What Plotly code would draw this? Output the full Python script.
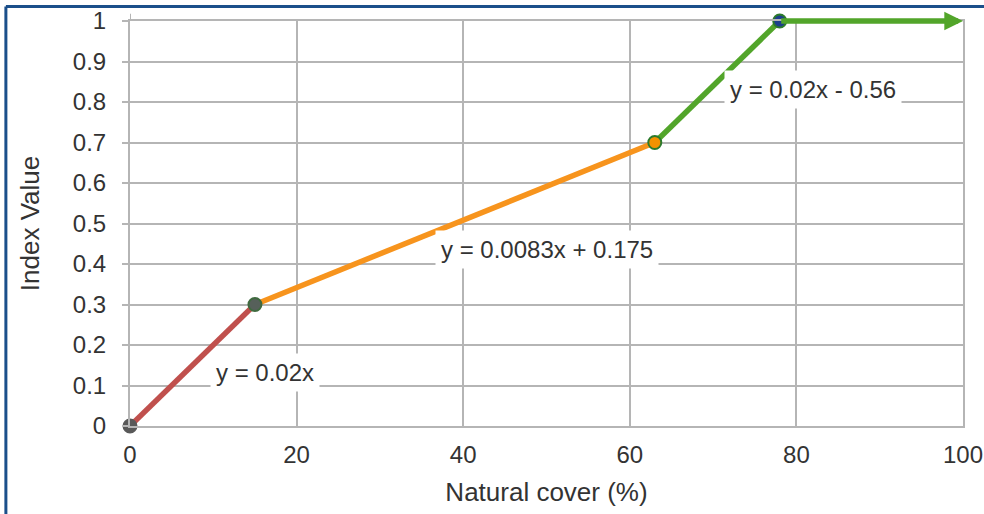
import plotly.graph_objects as go

# Data
break_x = [0, 15, 63, 78]
break_y = [0.0, 0.3, 0.7, 1.0]
end_x = 100
equations = ["y = 0.02x", "y = 0.0083x + 0.175", "y = 0.02x - 0.56"]
x_ticks = [0, 20, 40, 60, 80, 100]
y_ticks = [0, 0.1, 0.2, 0.3, 0.4, 0.5, 0.6, 0.7, 0.8, 0.9, 1]

seg_colors = ["#c0504d", "#f7941d", "#52a52a"]
marker_fill = ["#595959", "#56605a", "#f39200", "#1d3f8c"]
marker_line = ["#595959", "#3f6a3f", "#2c7a2c", "#2c7a2c"]
label_pos = [(16.2, 0.133), (50.0, 0.435), (82.05, 0.832)]

FONT = "Liberation Sans, Arial, sans-serif"
TXT = "#333333"

fig = go.Figure()
for i in range(3):
    fig.add_trace(go.Scatter(
        x=[break_x[i], break_x[i + 1]], y=[break_y[i], break_y[i + 1]],
        mode="lines", line=dict(color=seg_colors[i], width=5.5),
        cliponaxis=False, showlegend=False, hoverinfo="skip"))

fig.add_trace(go.Scatter(
    x=break_x, y=break_y, mode="markers",
    marker=dict(size=13, color=marker_fill, line=dict(color=marker_line, width=2)),
    cliponaxis=False, showlegend=False))

# arrow from last break point to end of range
fig.add_annotation(x=end_x, y=break_y[-1], ax=break_x[-1], ay=break_y[-1],
                   xref="x", yref="y", axref="x", ayref="y", text="",
                   showarrow=True, arrowhead=2, arrowsize=0.68, arrowwidth=5.5,
                   arrowcolor=seg_colors[2], standoff=0)

for (lx, ly), txt in zip(label_pos, equations):
    fig.add_annotation(x=lx, y=ly, xref="x", yref="y", text=txt, showarrow=False,
                       bgcolor="white", borderpad=5,
                       font=dict(family=FONT, size=24, color=TXT))

grid = "#b5b5b5"
fig.update_xaxes(range=[0, 100], tickvals=x_ticks, showgrid=True, gridcolor=grid, gridwidth=2,
                 zeroline=False, showline=True, linecolor=grid, linewidth=2, mirror=True,
                 automargin=False,
                 ticks="", ticklabelstandoff=6, tickfont=dict(size=24, color=TXT),
                 title=dict(text="Natural cover (%)", font=dict(size=26, color=TXT), standoff=16))
fig.update_yaxes(range=[0, 1], tickvals=y_ticks, showgrid=True, gridcolor=grid, gridwidth=2,
                 zeroline=False, showline=True, linecolor=grid, linewidth=2, mirror=True,
                 automargin=False,
                 ticks="outside", ticklen=6, tickwidth=2, tickcolor=grid, ticklabelstandoff=11,
                 tickfont=dict(size=24, color=TXT),
                 title=dict(text="Index Value", font=dict(size=26, color=TXT), standoff=26))

# small stub of the y axis above the top
fig.add_shape(type="line", xref="x", yref="paper", x0=0, x1=0, y0=1, y1=1.018,
              line=dict(color=grid, width=2))

border = "#1b4f8a"
fig.add_shape(type="line", xref="paper", yref="paper", x0=-0.149, x1=1.05, y0=1.036, y1=1.036,
              line=dict(color=border, width=3))
fig.add_shape(type="line", xref="paper", yref="paper", x0=-0.149, x1=-0.149, y0=1.036, y1=-0.25,
              line=dict(color=border, width=3))

fig.update_layout(width=984, height=514, margin=dict(l=130, r=21, t=21, b=88),
                  plot_bgcolor="white", paper_bgcolor="white",
                  font=dict(family=FONT, color=TXT))

fig.write_html("out.html", config={"displayModeBar": False},
               post_script="document.body.style.margin='0';")
